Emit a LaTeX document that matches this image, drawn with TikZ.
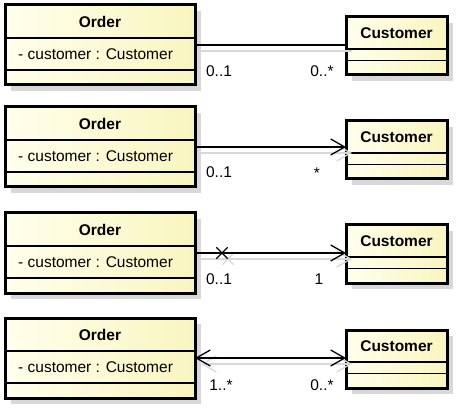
\documentclass[tikz,border=0pt]{standalone}
\usepackage{fontspec}
\setmainfont{Liberation Sans}
\usetikzlibrary{arrows.meta,shadows,shapes.misc}
\definecolor{clsleft}{RGB}{255,255,236}
\definecolor{clsright}{RGB}{249,245,192}
\definecolor{shade}{RGB}{216,216,216}
\begin{document}
\begin{tikzpicture}[x=1pt, y=-1pt, >={Straight Barb[length=14pt,width=16pt]},
  font=\fontsize{15.5}{18}\selectfont, line join=miter,
  classbox/.style={draw, line width=3pt, outer sep=0pt, inner sep=0pt, anchor=north west,
    left color=clsleft, right color=clsright,
    general shadow={fill=shade, shadow xshift=6pt, shadow yshift=-6pt}},
  divider/.style={line width=1.4pt},
  clsname/.style={font=\fontsize{15.5}{18}\selectfont\bfseries},
  attr/.style={anchor=west, inner sep=0pt},
  mult/.style={inner sep=0pt},
  assoc/.style={line width=1.3pt},
  assocshade/.style={draw=shade, line width=1.3pt, transform canvas={xshift=6pt,yshift=-6pt}},
  xmark/.style={draw, cross out, minimum size=10pt, inner sep=0pt, line width=1.3pt}]
\useasboundingbox (0,0) rectangle (461,409);
% classes
\foreach \i/\ot/\ct in {1/5/17, 2/107/121, 3/213/225, 4/318/330}{
  \node[classbox, minimum width=190, minimum height=80] (o\i) at (5,\ot) {};
  \draw[divider] ([yshift=-33pt]o\i.north west) -- ([yshift=-33pt]o\i.north east);
  \draw[divider] ([yshift=-65pt]o\i.north west) -- ([yshift=-65pt]o\i.north east);
  \path (o\i.north) ++(0,17) node[clsname] (on\i) {Order};
  \path (o\i.north west) ++(13,49) node[attr] (oa\i) {- customer : Customer};
  \node[classbox, minimum width=101, minimum height=58] (c\i) at (346,\ct) {};
  \draw[divider] ([yshift=-32pt]c\i.north west) -- ([yshift=-32pt]c\i.north east);
  \draw[divider] ([yshift=-43.5pt]c\i.north west) -- ([yshift=-43.5pt]c\i.north east);
  \path (c\i.north) ++(0,16.5) node[clsname] (cn\i) {Customer};
}
% shadows of the links
\draw[assocshade] (o1.east) -- (o1.east -| c1.west);
\draw[assocshade,->] (o2.east) -- (o2.east -| c2.west);
\draw[assocshade,->] (o3.east) -- (o3.east -| c3.west);
\path[assocshade] (o3.east) ++(27,0) node[xmark, draw=shade] {};
\draw[assocshade,<->] (o4.east) -- (o4.east -| c4.west);
% links
\draw[assoc] (o1.east) -- (o1.east -| c1.west);
\draw[assoc,->] (o2.east) -- (o2.east -| c2.west);
\draw[assoc,->] (o3.east) -- (o3.east -| c3.west);
\path (o3.east) ++(27,0) node[xmark] (nav3) {};
\draw[assoc,<->] (o4.east) -- (o4.east -| c4.west);
% multiplicities
\path (o1.east) ++(24,26) node[mult] (m1a) {0..1};
\path (o1.east -| c1.west) ++(-24,26) node[mult] (m1b) {0..*};
\path (o2.east) ++(24,25) node[mult] (m2a) {0..1};
\path (o2.east -| c2.west) ++(-29,26) node[mult] (m2b) {*};
\path (o3.east) ++(24,26) node[mult] (m3a) {0..1};
\path (o3.east -| c3.west) ++(-27,26) node[mult] (m3b) {1};
\path (o4.east) ++(26,27) node[mult] (m4a) {1..*};
\path (o4.east -| c4.west) ++(-24,27) node[mult] (m4b) {0..*};
\end{tikzpicture}
\end{document}
